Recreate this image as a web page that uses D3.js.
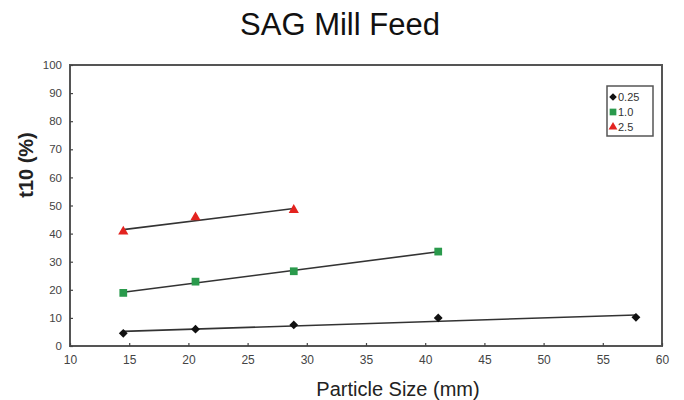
<!DOCTYPE html>
<html>
<head>
<meta charset="utf-8">
<script src="https://cdn.jsdelivr.net/npm/d3@7"></script>
<style>
  body { margin: 0; background: #fff; }
  text { font-family: "Liberation Sans", Arial, sans-serif; }
</style>
</head>
<body>
<div id="chart"></div>
<script>
// particle sizes (mm) and t10 (%) for each energy level
var sizes = [14.5, 20.6, 28.9, 41.1, 57.8];
var t10_025 = [4.5, 6.0, 7.5, 10.0, 10.2];
var t10_10 = [18.9, 22.9, 26.6, 33.6];
var t10_25 = [40.7, 45.8, 48.4];

var seriesNames = ["0.25", "1.0", "2.5"];
var xTicks = [10, 15, 20, 25, 30, 35, 40, 45, 50, 55, 60];
var yTicks = [0, 10, 20, 30, 40, 50, 60, 70, 80, 90, 100];

let svgWidth = 684;
let svgHeight = 400;

let margin = { top: 65, right: 22, bottom: 54, left: 70 };
let width = svgWidth - margin.left - margin.right;
let height = svgHeight - margin.top - margin.bottom;

let svg = d3.select("#chart")
  .append("svg")
  .attr("width", svgWidth)
  .attr("height", svgHeight);

let chartGroup = svg.append("g")
  .attr("transform", `translate(${margin.left}, ${margin.top})`);

let xScale = d3.scaleLinear().domain([10, 60]).range([0, width]);
let yScale = d3.scaleLinear().domain([0, 100]).range([height, 0]);

// plot frame
chartGroup.append("rect")
  .attr("x", 0).attr("y", 0)
  .attr("width", width).attr("height", height)
  .attr("fill", "none")
  .attr("stroke", "#555")
  .attr("stroke-width", 2);

let bottomAxis = d3.axisBottom(xScale).tickValues(xTicks).tickSize(-3).tickPadding(9);
let leftAxis = d3.axisLeft(yScale).tickValues(yTicks).tickSize(-3).tickPadding(8);

let xAxisG = chartGroup.append("g")
  .attr("transform", `translate(0, ${height})`)
  .call(bottomAxis);
let yAxisG = chartGroup.append("g").call(leftAxis);

[xAxisG, yAxisG].forEach(g => {
  g.select(".domain").remove();
  g.selectAll(".tick line").attr("stroke", "#444").attr("stroke-width", 1.2);
  g.selectAll(".tick text")
    .attr("fill", "#444")
    .style("font-size", "12px")
    .style("font-family", "'Liberation Sans', Arial, sans-serif");
});
yAxisG.selectAll(".tick text").style("font-size", "11.5px");

// series
var diamond = d3.symbolDiamond2 || d3.symbolDiamond;
var series = [
  { name: seriesNames[0], y: t10_025, color: "#111", shape: diamond, size: 50 },
  { name: seriesNames[1], y: t10_10, color: "#2a9a4c", shape: d3.symbolSquare, size: 60 },
  { name: seriesNames[2], y: t10_25, color: "#e3231f", shape: d3.symbolTriangle, size: 45 }
];

// linear trend line over each series' range
function fit(xs, ys) {
  let mx = d3.mean(xs), my = d3.mean(ys);
  let sxy = d3.sum(xs, (x, i) => (x - mx) * (ys[i] - my));
  let sxx = d3.sum(xs, x => (x - mx) * (x - mx));
  let b = sxy / sxx;
  return x => my + b * (x - mx);
}

let line = d3.line().x(d => xScale(d[0])).y(d => yScale(d[1]));

series.forEach(s => {
  let xs = sizes.slice(0, s.y.length);
  let f = fit(xs, s.y);
  let ends = [d3.min(xs), d3.max(xs)].map(x => [x, f(x)]);
  chartGroup.append("path")
    .attr("d", line(ends))
    .attr("fill", "none")
    .attr("stroke", "#333")
    .attr("stroke-width", 1.6);
});

series.forEach(s => {
  chartGroup.selectAll(null)
    .data(s.y)
    .enter()
    .append("path")
    .attr("d", d3.symbol().type(s.shape).size(s.size))
    .attr("transform", (d, i) => `translate(${xScale(sizes[i])}, ${yScale(d)})`)
    .attr("fill", s.color);
});

// legend
let legend = svg.append("g").attr("transform", "translate(607, 86)");
legend.append("rect")
  .attr("width", 46).attr("height", 50)
  .attr("fill", "#fff")
  .attr("stroke", "#555")
  .attr("stroke-width", 1.5);
series.forEach((s, i) => {
  let row = legend.append("g").attr("transform", `translate(0, ${11 + i * 15})`);
  row.append("path")
    .attr("d", d3.symbol().type(s.shape).size(s.size * 0.75))
    .attr("transform", "translate(6, 0)")
    .attr("fill", s.color);
  row.append("text")
    .attr("x", 11).attr("y", 4)
    .attr("fill", "#333")
    .style("font-size", "11px")
    .text(s.name);
});

// titles
svg.append("text")
  .attr("x", 340).attr("y", 35)
  .attr("text-anchor", "middle")
  .attr("fill", "#111")
  .style("font-size", "31px")
  .text("SAG Mill Feed");

svg.append("text")
  .attr("x", 398).attr("y", 396)
  .attr("text-anchor", "middle")
  .attr("fill", "#222")
  .style("font-size", "20px")
  .text("Particle Size (mm)");

svg.append("text")
  .attr("transform", "rotate(-90)")
  .attr("x", -165).attr("y", 33)
  .attr("text-anchor", "middle")
  .attr("fill", "#222")
  .style("font-size", "20px")
  .style("font-weight", "bold")
  .text("t10 (%)");
</script>
</body>
</html>
